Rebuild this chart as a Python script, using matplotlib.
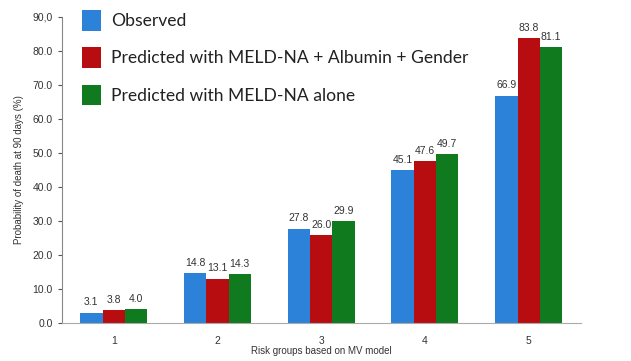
import matplotlib.pyplot as plt
import numpy as np

# risk groups and values (%)
groups = ['1', '2', '3', '4', '5']
observed = [3.1, 14.8, 27.8, 45.1, 66.9]
pred_full = [3.8, 13.1, 26.0, 47.6, 83.8]
pred_meld = [4.0, 14.3, 29.9, 49.7, 81.1]
series_names = ['Observed',
                'Predicted with MELD-NA + Albumin + Gender',
                'Predicted with MELD-NA alone']
yticks = [0, 10, 20, 30, 40, 50, 60, 70, 80, 90]
ytick_labels = ['0.0', '10.0', '20.0', '30.0', '40.0', '50.0',
                '60.0', '70.0', '80.0', '90,0']

colors = ['#2b82d8', '#b80d10', '#0f7a1e']

fig = plt.figure(figsize=(6.31, 3.61), dpi=100)
ax = fig.add_axes([0.098, 0.105, 0.822, 0.848])

x = np.arange(1, len(groups) + 1)
w = 0.215
for i, (vals, name) in enumerate(zip([observed, pred_full, pred_meld], series_names)):
    bars = ax.bar(x + (i - 1) * w, vals, w, color=colors[i], label=name)
    for b, v in zip(bars, vals):
        ax.text(b.get_x() + b.get_width() / 2, v + 1.5, '{:.1f}'.format(v),
                ha='center', va='bottom', fontsize=7.5, color='#333333',
                family='Liberation Sans')

ax.set_xlim(0.5, 5.5)
ax.set_ylim(0, 90)
ax.set_xticks(x)
ax.set_xticklabels(groups)
ax.set_yticks(yticks)
ax.set_yticklabels(ytick_labels)
ax.tick_params(axis='x', length=0, labelsize=7.5, pad=9)
ax.tick_params(axis='y', length=3, labelsize=7.5, colors='#555555')
for lbl in ax.get_xticklabels() + ax.get_yticklabels():
    lbl.set_family('Liberation Sans')
    lbl.set_color('#333333')

ax.spines['top'].set_visible(False)
ax.spines['right'].set_visible(False)
ax.spines['left'].set_color('#888888')
ax.spines['bottom'].set_color('#aaaaaa')

ax.set_ylabel('Probability of death at 90 days (%)', fontsize=7,
              family='Liberation Sans', color='#333333', labelpad=6)
ax.set_xlabel('Risk groups based on MV model', fontsize=7,
              family='Liberation Sans', color='#333333')
ax.xaxis.set_label_coords(0.5, -0.075)

leg = ax.legend(loc='upper left', bbox_to_anchor=(0.008, 1.075), frameon=False,
                prop={'family': 'Lato', 'size': 12.6}, handlelength=1.1,
                handleheight=1.45, handletextpad=0.6, labelspacing=0.95)
for t in leg.get_texts():
    t.set_color('#222222')

plt.savefig('out.png', dpi=100)
